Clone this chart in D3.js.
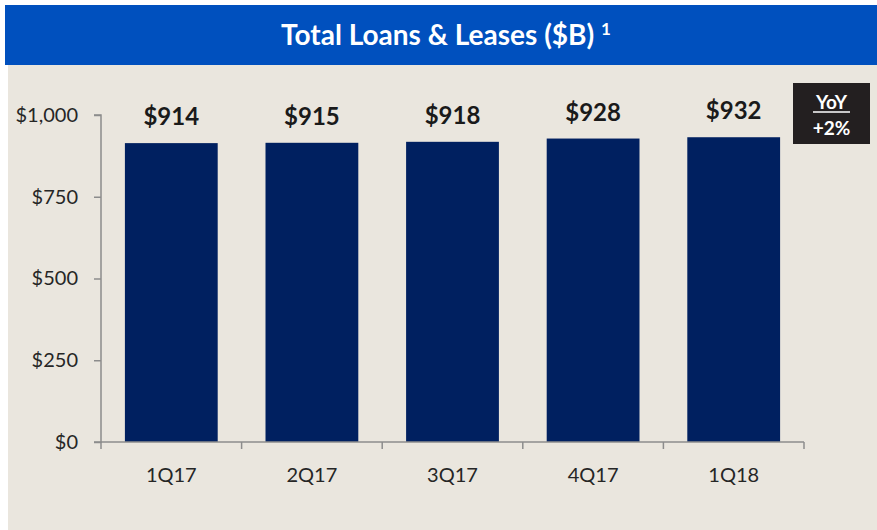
<!DOCTYPE html>
<html><head><meta charset="utf-8">
<script src="https://cdn.jsdelivr.net/npm/d3@7"></script>
<style>
html,body{margin:0;padding:0;background:#fff;}
svg{display:block;font-family:Lato,"Open Sans",sans-serif;}
</style></head>
<body>
<svg id="chart" width="877" height="530"></svg>
<script>
const categories = ["1Q17","2Q17","3Q17","4Q17","1Q18"];
const values = [914, 915, 918, 928, 932];
const valueLabels = ["$914","$915","$918","$928","$932"];
const yTicks = [0, 250, 500, 750, 1000];
const yTickLabels = ["$0","$250","$500","$750","$1,000"];
const title = "Total Loans & Leases ($B)";
const titleNote = "1";
const yoyLabel = "YoY";
const yoyValue = "+2%";

(function(){
const svg = d3.select("#chart");
svg.append("rect").attr("x",8).attr("y",65).attr("width",869).attr("height",465).attr("fill","#EAE6DE");
svg.append("rect").attr("x",5).attr("y",5).attr("width",872).attr("height",60).attr("fill","#0050BE");
const t = svg.append("text").attr("x",446).attr("y",45).attr("text-anchor","middle")
  .attr("fill","#fff").attr("font-weight","bold").attr("font-size",28);
t.append("tspan").text(title);
t.append("tspan").text(" ");
t.append("tspan").text(titleNote).attr("font-size",17).attr("dy",-10);

const mLeft = 101, mRight = 804, mTop = 115, mBottom = 442;
const x = d3.scaleBand().domain(categories).range([mLeft, mRight]).paddingInner(0.34).paddingOuter(0.17);
const y = d3.scaleLinear().domain([0, 1000]).range([mBottom, mTop]);

svg.append("g").selectAll("rect").data(values).join("rect")
  .attr("x",(d,i)=>x(categories[i])).attr("width",x.bandwidth())
  .attr("y",d=>y(d)).attr("height",d=>mBottom-y(d)).attr("fill","#002060");

const yAxis = d3.axisLeft(y).tickValues(yTicks).tickFormat((d,i)=>yTickLabels[i]).tickSize(7).tickPadding(16);
const gy = svg.append("g").attr("transform",`translate(${mLeft},0)`).call(yAxis);
gy.select(".domain").attr("stroke","#8c8c8c").attr("stroke-width",1.5).attr("d",`M-7,${mTop}H0V${mBottom}H-7`);
gy.selectAll(".tick line").attr("stroke","#8c8c8c").attr("stroke-width",1.5);
gy.selectAll(".tick text").attr("fill","#262626").attr("font-size",20).attr("font-family","Lato,'Open Sans',sans-serif");

const xb = d3.scaleLinear().domain([0,categories.length]).range([mLeft,mRight]);
const gx = svg.append("g");
gx.append("line").attr("x1",mLeft).attr("x2",mRight).attr("y1",mBottom).attr("y2",mBottom).attr("stroke","#8c8c8c").attr("stroke-width",1.5);
gx.selectAll("line.b").data(d3.range(categories.length+1)).join("line").attr("class","b")
  .attr("x1",d=>xb(d)).attr("x2",d=>xb(d)).attr("y1",mBottom).attr("y2",mBottom+7)
  .attr("stroke","#8c8c8c").attr("stroke-width",1.5);
gx.selectAll("text").data(categories).join("text")
  .attr("x",d=>x(d)+x.bandwidth()/2).attr("y",482).attr("text-anchor","middle")
  .attr("fill","#262626").attr("font-size",20).text(d=>d);

svg.append("g").selectAll("text").data(values).join("text")
  .attr("x",(d,i)=>x(categories[i])+x.bandwidth()/2).attr("y",d=>y(d)-18)
  .attr("text-anchor","middle").attr("fill","#1a1a1a").attr("font-weight","bold").attr("font-size",24)
  .text((d,i)=>valueLabels[i]);

svg.append("rect").attr("x",793).attr("y",83).attr("width",77).attr("height",61).attr("fill","#231F20");
svg.append("text").attr("x",831.5).attr("y",109).attr("text-anchor","middle").attr("fill","#fff")
  .attr("font-weight","bold").attr("font-size",19).text(yoyLabel);
svg.append("line").attr("x1",813).attr("x2",850).attr("y1",112).attr("y2",112).attr("stroke","#fff").attr("stroke-width",1.5);
svg.append("text").attr("x",831.5).attr("y",135).attr("text-anchor","middle").attr("fill","#fff")
  .attr("font-weight","bold").attr("font-size",19).text(yoyValue);
})();
</script>
</body></html>
